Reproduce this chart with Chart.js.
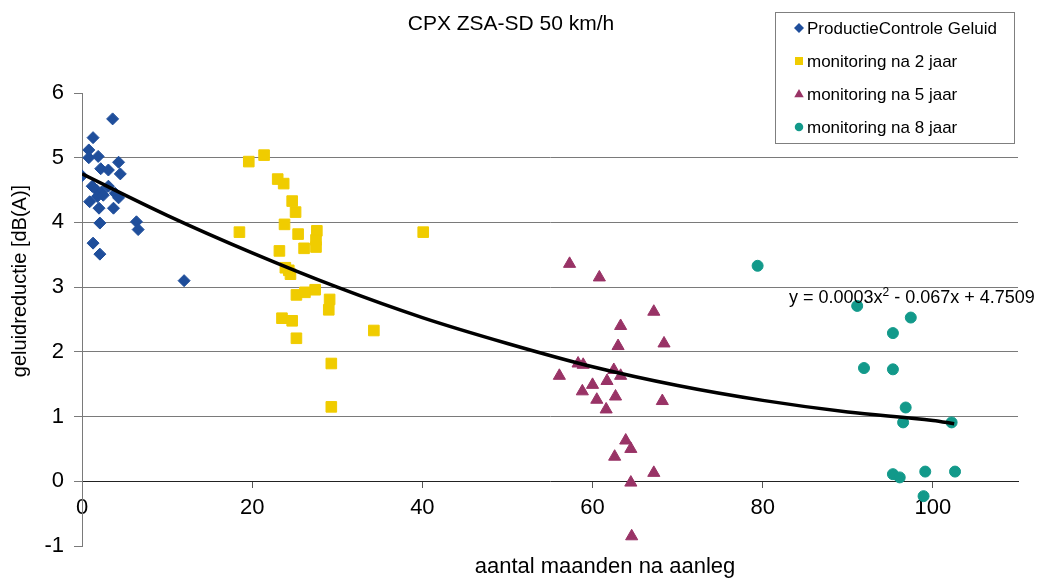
<!DOCTYPE html>
<html>
<head>
  <title>CPX ZSA-SD 50 km/h</title>
  <script src="https://cdn.jsdelivr.net/npm/chart.js"></script>
  <style>
    body { margin: 0; background: #fff; }
    #wrap { width: 1047px; height: 579px; }
  </style>
</head>
<body>
<div id="wrap">
  <canvas id="cpxChart" width="1047" height="579"></canvas>
</div>
<script>
  // data
  const chartTitle = 'CPX ZSA-SD 50 km/h';
  const xTitle = 'aantal maanden na aanleg';
  const yTitle = 'geluidreductie [dB(A)]';
  const seriesNames = ['ProductieControle Geluid', 'monitoring na 2 jaar', 'monitoring na 5 jaar', 'monitoring na 8 jaar'];

  const pcX = [3.6, 1.3, 0.8, 0.8, 1.9, 4.3, 2.2, 3.1, 4.5, 0.0, 1.2, 1.7, 2.3, 3.1, 1.8, 2.5, 3.9, 4.3, 0.9, 2.0, 3.7, 2.1, 6.4, 6.6, 1.3, 2.1, 12.0];
  const pcY = [5.60, 5.31, 5.12, 5.00, 5.02, 4.93, 4.83, 4.81, 4.75, 4.72, 4.56, 4.50, 4.47, 4.56, 4.40, 4.42, 4.45, 4.38, 4.32, 4.22, 4.22, 3.99, 4.01, 3.89, 3.68, 3.51, 3.10];

  const m2X = [19.6, 21.4, 23.0, 23.7, 24.7, 25.1, 23.8, 18.5, 25.4, 27.6, 40.1, 27.5, 27.5, 26.1, 23.2, 23.9, 24.5, 24.3, 25.2, 26.2, 27.4, 29.1, 29.0, 23.5, 24.7, 25.2, 34.3, 29.3, 29.3];
  const m2Y = [4.94, 5.04, 4.67, 4.60, 4.33, 4.16, 3.97, 3.85, 3.82, 3.87, 3.85, 3.73, 3.62, 3.60, 3.56, 3.30, 3.20, 3.26, 2.88, 2.92, 2.96, 2.81, 2.65, 2.52, 2.48, 2.21, 2.33, 1.82, 1.15];

  const m5X = [57.3, 60.8, 67.2, 63.3, 63.0, 68.4, 58.3, 58.9, 62.5, 63.3, 56.1, 61.7, 60.0, 58.8, 62.7, 60.5, 68.2, 61.6, 63.9, 64.5, 62.6, 67.2, 64.5, 64.6];
  const m5Y = [3.36, 3.15, 2.62, 2.40, 2.09, 2.13, 1.82, 1.80, 1.72, 1.63, 1.63, 1.55, 1.49, 1.39, 1.31, 1.26, 1.24, 1.11, 0.63, 0.50, 0.38, 0.13, -0.02, -0.85];

  const m8X = [79.4, 91.1, 97.4, 95.3, 91.9, 95.3, 96.8, 96.5, 102.2, 95.3, 96.1, 99.1, 102.6, 98.9];
  const m8Y = [3.33, 2.71, 2.53, 2.29, 1.75, 1.73, 1.14, 0.91, 0.91, 0.11, 0.06, 0.15, 0.15, -0.23];

  // trendline as traced on the picture
  const trendX = [0, 10, 20, 30, 40, 50, 60, 70, 80, 90, 100, 102.5];
  const trendY = [4.75, 4.11, 3.53, 3.00, 2.53, 2.13, 1.77, 1.48, 1.25, 1.07, 0.94, 0.89];
  const trendLabel = ['y = 0.0003x', '2', ' - 0.067x + 4.7509'];

  const xTicks = [0, 20, 40, 60, 80, 100];
  const yTicks = [-1, 0, 1, 2, 3, 4, 5, 6];

  const colors = ['#1f4e9b', '#f0cc00', '#993366', '#12998a'];
  const shapes = ['rectRot', 'rect', 'triangle', 'circle'];
  const font = '"Liberation Sans", Arial, sans-serif';

  function pts(xs, ys) {
    return xs.map((x, i) => ({ x: x, y: ys[i] }));
  }

  function drawMarker(ctx, shape, x, y, r) {
    ctx.beginPath();
    if (shape === 'rectRot') {
      ctx.moveTo(x - r, y); ctx.lineTo(x, y - r); ctx.lineTo(x + r, y); ctx.lineTo(x, y + r);
    } else if (shape === 'rect') {
      const s = r * 0.8;
      ctx.rect(x - s, y - s, 2 * s, 2 * s);
    } else if (shape === 'triangle') {
      ctx.moveTo(x, y - r); ctx.lineTo(x + r * 0.95, y + r * 0.65); ctx.lineTo(x - r * 0.95, y + r * 0.65);
    } else {
      ctx.arc(x, y, r * 0.85, 0, Math.PI * 2);
    }
    ctx.closePath();
    ctx.fill();
  }

  const decor = {
    id: 'decor',
    afterDraw(chart) {
      const ctx = chart.ctx;
      ctx.save();
      ctx.fillStyle = '#000';
      ctx.textBaseline = 'middle';

      ctx.textAlign = 'center';
      ctx.font = '21px ' + font;
      ctx.fillText(chartTitle, 511, 24);

      ctx.font = '22px ' + font;
      ctx.fillText(xTitle, 605, 567);

      ctx.save();
      ctx.translate(20, 281);
      ctx.rotate(-Math.PI / 2);
      ctx.font = '20px ' + font;
      ctx.fillText(yTitle, 0, 0);
      ctx.restore();

      // trendline equation
      ctx.textAlign = 'left';
      ctx.textBaseline = 'alphabetic';
      let ex = 789;
      const ey = 303;
      ctx.font = '18px ' + font;
      ctx.fillText(trendLabel[0], ex, ey);
      ex += ctx.measureText(trendLabel[0]).width;
      ctx.font = '12px ' + font;
      ctx.fillText(trendLabel[1], ex, ey - 7);
      ex += ctx.measureText(trendLabel[1]).width;
      ctx.font = '18px ' + font;
      ctx.fillText(trendLabel[2], ex, ey);

      // legend box
      ctx.fillStyle = '#fff';
      ctx.fillRect(775.5, 12.5, 239, 131);
      ctx.strokeStyle = '#7f7f7f';
      ctx.lineWidth = 1;
      ctx.strokeRect(775.5, 12.5, 239, 131);
      ctx.textBaseline = 'middle';
      ctx.font = '17px ' + font;
      seriesNames.forEach((name, i) => {
        const cy = 28 + i * 33;
        ctx.fillStyle = colors[i];
        drawMarker(ctx, shapes[i], 799, cy, 5);
        ctx.fillStyle = '#000';
        ctx.fillText(name, 807, cy + 1);
      });
      ctx.restore();
    }
  };

  const markerData = [pts(pcX, pcY), pts(m2X, m2Y), pts(m5X, m5Y), pts(m8X, m8Y)];
  const radii = [6, 7.5, 7, 5.5];

  const datasets = [{
    label: 'trend',
    data: pts(trendX, trendY),
    showLine: true,
    borderColor: '#000',
    borderWidth: 3.5,
    pointRadius: 0,
    cubicInterpolationMode: 'monotone',
    order: -1
  }];
  seriesNames.forEach((name, i) => {
    datasets.push({
      label: name,
      data: markerData[i],
      pointStyle: shapes[i],
      pointRadius: radii[i],
      backgroundColor: colors[i],
      borderColor: colors[i],
      borderWidth: 1
    });
  });

  new Chart(document.getElementById('cpxChart').getContext('2d'), {
    type: 'scatter',
    data: { datasets: datasets },
    options: {
      responsive: false,
      animation: false,
      events: [],
      layout: { padding: { top: 93, right: 29, bottom: 33, left: 0 } },
      plugins: { legend: { display: false }, title: { display: false }, tooltip: { enabled: false } },
      scales: {
        x: {
          type: 'linear',
          min: 0,
          max: 110,
          position: { y: 0 },
          afterBuildTicks: s => { s.ticks = xTicks.map(v => ({ value: v })); },
          ticks: { color: '#000', font: { size: 22, family: font }, padding: 7, maxRotation: 0 },
          grid: { drawOnChartArea: false, tickColor: '#555', tickLength: 6 },
          border: { color: '#222' }
        },
        y: {
          type: 'linear',
          min: -1,
          max: 6,
          afterBuildTicks: s => { s.ticks = yTicks.map(v => ({ value: v })); },
          afterFit: s => { s.width = 82; },
          ticks: { color: '#000', font: { size: 22, family: font }, padding: 10 },
          grid: {
            color: c => (c.tick && (c.tick.value === 6 || c.tick.value <= 0)) ? 'rgba(0,0,0,0)' : '#7a7a7a',
            tickColor: '#7a7a7a',
            tickLength: 8
          },
          border: { color: '#7a7a7a' }
        }
      }
    },
    plugins: [decor]
  });
</script>
</body>
</html>
